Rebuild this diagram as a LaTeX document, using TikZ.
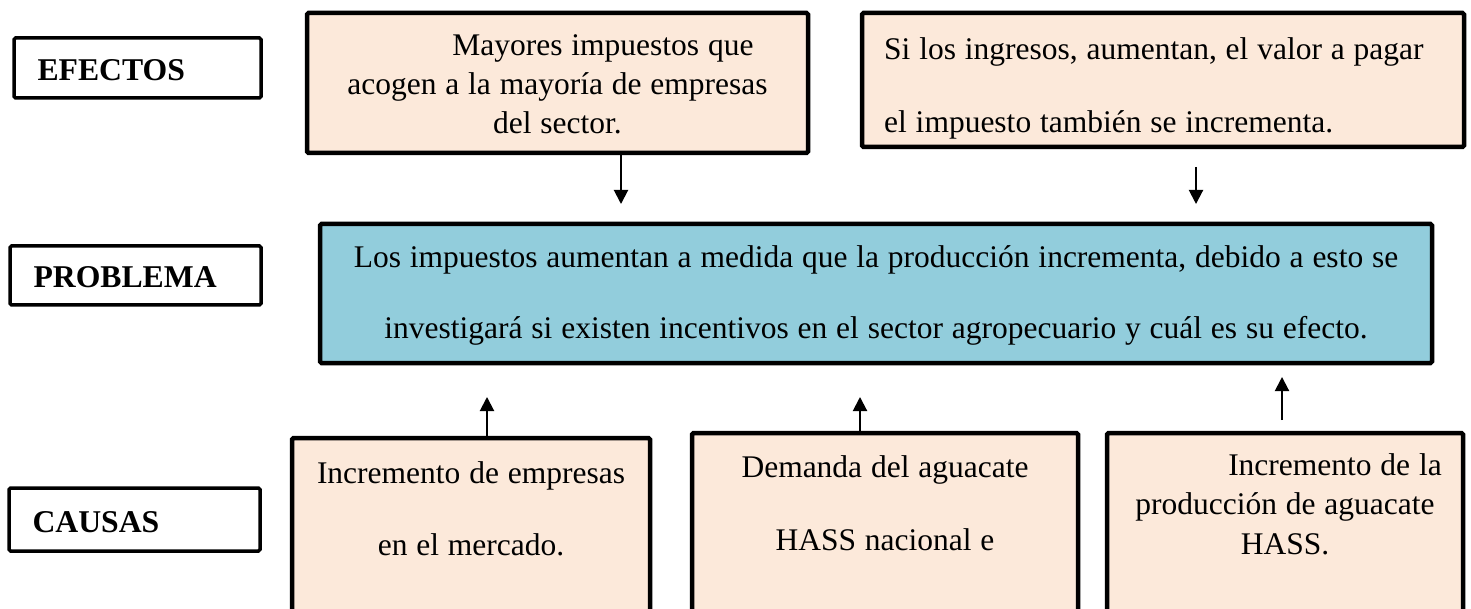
\documentclass[tikz,border=0pt]{standalone}
\usepackage{fontspec}
\setmainfont{Liberation Serif}
\usetikzlibrary{arrows.meta}
\definecolor{peach}{HTML}{FCE9DA}
\definecolor{aqua}{HTML}{92CDDC}
\newcommand\mytxtfont[1]{\fontsize{31.5}{#1}\selectfont}
\newcommand\mytightsp{\spaceskip=0.28em\xspaceskip=0.28em\relax}
\begin{document}
\begin{tikzpicture}[x=1pt,y=-1pt,
  cbox/.style={draw=black, line width=4.5pt, inner sep=0pt, rounded corners=1.5pt},
  lbl/.style={draw=black, line width=3.5pt, fill=white, rounded corners=1.5pt,
    inner xsep=23.5pt, inner ysep=0pt, text height=25pt, text depth=0pt,
    align=left, font=\bfseries\fontsize{31.7}{38}\selectfont},
  txt/.style={inner sep=0pt},
  arr/.style={line width=2pt, -{Triangle[width=14pt,length=14pt]}}]

\path[use as bounding box, fill=white] (0,0) rectangle (1471,609);

% label boxes
\node[lbl, minimum width=247pt, minimum height=60pt, text width=200pt] (lef) at (137.5,68) {EFECTOS};
\node[lbl, minimum width=251pt, minimum height=59pt, text width=204pt] (lpb) at (135.5,275.5) {PROBLEMA};
\node[lbl, minimum width=251pt, minimum height=63pt, text width=204pt] (lca) at (134.5,519.5) {CAUSAS};

% effect boxes
\node[cbox, fill=peach, minimum width=501pt, minimum height=140pt] (e1) at (557.5,83) {};
\node[cbox, fill=peach, minimum width=602pt, minimum height=134pt] (e2) at (1163,80) {};
% problem box
\node[cbox, fill=aqua, minimum width=1112pt, minimum height=139pt] (pb) at (876,293.5) {};
% cause boxes
\node[cbox, fill=peach, minimum width=358pt, minimum height=202pt] (c1) at (471,539) {};
\node[cbox, fill=peach, minimum width=386pt, minimum height=207pt] (c2) at (885,536.5) {};
\node[cbox, fill=peach, minimum width=356pt, minimum height=207pt] (c3) at (1285,536.5) {};

% texts
\node[txt, anchor=north, text width=480pt, align=center, font=\mytxtfont{39}] (e1t) at (557.5,31)
  {\mytightsp\rule{0pt}{24pt}\hspace*{91pt}Mayores impuestos que\\\mytightsp acogen a la mayoría de empresas\\\mytightsp del sector.};
\node[txt, anchor=north west, text width=575pt, align=left, font=\mytxtfont{73}] (e2t) at (884,35)
  {\mytightsp\rule{0pt}{24pt}Si los ingresos, aumentan, el valor a pagar\\\mytightsp el impuesto también se incrementa.};
\node[txt, anchor=north, text width=1100pt, align=center, font=\mytxtfont{71}] (pbt) at (876,243)
  {\mytightsp\rule{0pt}{24pt}Los impuestos aumentan a medida que la producción incrementa, debido a esto se\\\mytightsp investigará si existen incentivos en el sector agropecuario y cuál es su efecto.};
\node[txt, anchor=north, text width=340pt, align=center, font=\mytxtfont{72}] (c1t) at (471,459)
  {\mytightsp\rule{0pt}{24pt}Incremento de empresas\\\mytightsp en el mercado.};
\node[txt, anchor=north, text width=370pt, align=center, font=\mytxtfont{73}] (c2t) at (885,453)
  {\mytightsp\rule{0pt}{24pt}Demanda del aguacate\\\mytightsp HASS nacional e};
\node[txt, anchor=north, text width=340pt, align=center, font=\mytxtfont{39.5}] (c3t) at (1285,451)
  {\mytightsp\rule{0pt}{24pt}\hspace*{100pt}Incremento de la\\\mytightsp producción de aguacate\\\mytightsp HASS.};

% arrow end points
\coordinate (a1e) at (621,204);
\coordinate (a2s) at (1196,167);
\coordinate (a2e) at (1196,204);
\coordinate (a3e) at (487,397);
\coordinate (a4e) at (860,397);
\coordinate (a5s) at (1282,420);
\coordinate (a5e) at (1282,377);

\draw[arr] (e1.south -| a1e) -- (a1e);
\draw[arr] (a2s) -- (a2e);
\draw[arr] (c1.north -| a3e) -- (a3e);
\draw[arr] (c2.north -| a4e) -- (a4e);
\draw[arr] (a5s) -- (a5e);
\end{tikzpicture}
\end{document}
